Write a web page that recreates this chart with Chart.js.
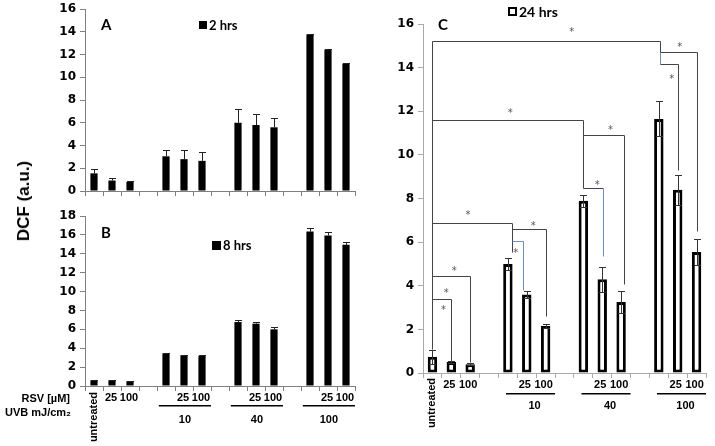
<!DOCTYPE html>
<html>
<head>
<meta charset="utf-8">
<script src="https://cdn.jsdelivr.net/npm/chart.js@4.4.1/dist/chart.umd.min.js"></script>
<style>
  html, body { margin: 0; padding: 0; background: #fff; }
  #wrap { position: relative; width: 715px; height: 446px; overflow: hidden; }
  #wrap canvas { position: absolute; }
  #ylabel {
    position: absolute; left: 24px; top: 201px;
    font: bold 17px "Liberation Sans", Arial, sans-serif; color: #000;
    white-space: nowrap;
    transform: translate(-50%, -50%) rotate(-90deg);
  }
</style>
</head>
<body>
<div id="wrap">
  <canvas id="chartA" width="360" height="234" style="left:0;top:-20px"></canvas>
  <canvas id="chartB" width="360" height="246" style="left:0;top:200px"></canvas>
  <canvas id="chartC" width="355" height="446" style="left:360px;top:0"></canvas>
  <div id="ylabel">DCF (a.u.)</div>
</div>
<script>
// bars: untreated + RSV 25/100, then UVB 10/40/100 each with RSV 0/25/100
var categories = ['untreated', '25', '100', '', '', '25', '100', '', '', '25', '100', '', '', '25', '100'];
var uvbDoses = ['10', '40', '100'];
var uvbDoseBars = [[4, 6], [8, 10], [12, 14]];

var dcf2h  = [1.55, 0.92, 0.8, null, 3.05, 2.8, 2.65, null, 6.0, 5.8, 5.6, null, 13.75, 12.45, 11.2];
var err2h  = [0.35, 0.25, 0.12, null, 0.55, 0.8, 0.75, null, 1.25, 1.0, 0.8, null, 0.03, 0.03, 0.03];
var dcf8h  = [0.6, 0.6, 0.5, null, 3.45, 3.25, 3.2, null, 6.77, 6.6, 6.0, null, 16.35, 15.93, 14.95];
var err8h  = [0.05, 0.05, 0.03, null, 0.05, 0.05, 0.05, null, 0.18, 0.18, 0.2, null, 0.35, 0.4, 0.3];
var dcf24h = [0.75, 0.5, 0.4, null, 5.0, 3.6, 2.15, null, 7.9, 4.3, 3.25, null, 11.65, 8.4, 5.55];
var err24h = [0.32, 0.05, 0.05, null, 0.28, 0.18, 0.08, null, 0.27, 0.58, 0.5, null, 0.8, 0.7, 0.6];

var yMaxA = 16, yMaxB = 18, yMaxC = 16, yStep = 2;

// significance brackets of panel C, polylines in [bar index, DCF] units
var sigLinesC = [
    [[0, 1.1], [0, 15.2], [12.05, 15.2], [12.05, 14.7]],
    [[12.05, 14.7], [12.05, 14.15]],
    [[12.05, 14.15], [13, 14.15], [13, 9.3]],
    [[12.05, 14.7], [14, 14.7], [14, 6.5]],
    [[0, 11.6], [8, 11.6], [8, 8.5], [9.05, 8.5]],
    [[9.05, 8.5], [9.05, 5.35]],
    [[8, 10.9], [10.15, 10.9], [10.15, 4.1]],
    [[0, 6.88], [4.2, 6.88], [4.2, 5.53]],
    [[4.2, 6.6], [6, 6.6], [6, 2.6]],
    [[4.2, 6.07], [4.8, 6.07], [4.8, 3.82]],
    [[0, 4.43], [2, 4.43], [2, 0.5]],
    [[0, 3.37], [1, 3.37], [1, 0.55]]
];
var sigStarsC = [[7.38, 15.7], [13.11, 15.0], [12.69, 13.55], [4.12, 12.0], [9.44, 11.2], [8.74, 8.7],
                 [1.88, 7.3], [5.35, 6.83], [4.42, 5.58], [1.16, 4.74], [0.73, 3.72], [0.59, 2.95]];

var FONT = '"Liberation Sans", Arial, sans-serif';
var TICK_FONT = {family: '"DejaVu Sans", sans-serif', size: 12, weight: 'bold'};

var errorBars = {
    id: 'errorBars',
    afterDatasetsDraw: function (chart, args, opts) {
        var ctx = chart.ctx, y = chart.scales.y;
        chart.data.datasets.forEach(function (ds, i) {
            chart.getDatasetMeta(i).data.forEach(function (bar, j) {
                var v = ds.data[j], e = ds.errors[j];
                if (v == null || e == null) return;
                var x = Math.round(bar.x) + 0.5;
                var top = Math.round(y.getPixelForValue(v + e)) + 0.5;
                var bot = opts.both ? Math.round(y.getPixelForValue(v - e)) + 0.5 : bar.y;
                ctx.save();
                ctx.strokeStyle = opts.color;
                ctx.lineWidth = 1;
                ctx.beginPath();
                ctx.moveTo(x, top); ctx.lineTo(x, bot);
                ctx.moveTo(x - opts.cap, top); ctx.lineTo(x + opts.cap, top);
                if (opts.both) { ctx.moveTo(x - opts.cap, bot); ctx.lineTo(x + opts.cap, bot); }
                ctx.stroke();
                ctx.restore();
            });
        });
    }
};

// the labels under the bars: RSV doses, 'untreated' upright, UVB dose lines
var axisLabels = {
    id: 'axisLabels',
    afterDraw: function (chart, args, o) {
        var ctx = chart.ctx, x = chart.scales.x, base = chart.chartArea.bottom;
        ctx.save();
        ctx.fillStyle = '#000';
        ctx.font = 'bold 11px ' + FONT;
        ctx.textAlign = 'center';
        ctx.textBaseline = 'middle';
        categories.forEach(function (lab, i) {
            if (!lab) return;
            var px = x.getPixelForValue(i);
            if (i === 0) {
                ctx.save();
                ctx.translate(px, base + o.rotGap);
                ctx.rotate(-Math.PI / 2);
                ctx.textAlign = 'right';
                ctx.fillText(lab, 0, 0);
                ctx.restore();
            } else {
                ctx.fillText(lab, px + o.shift, base + o.labelGap);
            }
        });
        uvbDoses.forEach(function (dose, k) {
            var x0 = x.getPixelForValue(uvbDoseBars[k][0] + o.lineFrom);
            var x1 = x.getPixelForValue(uvbDoseBars[k][1] + o.lineTo);
            ctx.fillRect(x0, base + o.lineGap, x1 - x0, 1.5);
            ctx.fillText(dose, (x0 + x1) / 2 + o.doseShift, base + o.doseGap);
        });
        if (o.rowTitles) {
            ctx.textAlign = 'right';
            ctx.fillText('RSV [µM]', chart.chartArea.left - 15, base + o.labelGap + 1);
            ctx.fillText('UVB mJ/cm\u2082', chart.chartArea.left - 14, base + 27);
        }
        ctx.restore();
    }
};

function decor(letter, lx, ly, legend) {
    return {
        id: 'decor',
        afterDraw: function (chart) {
            var ctx = chart.ctx, ds = chart.data.datasets[0];
            ctx.save();
            ctx.fillStyle = '#000';
            ctx.textBaseline = 'middle';
            ctx.font = 'bold 15px Lato, sans-serif';
            ctx.fillText(letter, lx, ly);
            if (legend.hollow) {
                ctx.strokeStyle = '#000';
                ctx.lineWidth = 2;
                ctx.strokeRect(legend.x + 1, legend.y + 1, legend.size - 2, legend.size - 2);
            } else {
                ctx.fillRect(legend.x, legend.y, legend.size, legend.size);
            }
            ctx.font = 'bold ' + legend.font + 'px Lato, sans-serif';
            ctx.fillText(ds.label, legend.x + legend.size + 2, legend.y + legend.size / 2 + 0.5);
            ctx.restore();
        }
    };
}

var sigBrackets = {
    id: 'sigBrackets',
    afterDatasetsDraw: function (chart) {
        var ctx = chart.ctx, x = chart.scales.x, y = chart.scales.y;
        var blue = [1, 5, 9];
        ctx.save();
        ctx.lineWidth = 1;
        sigLinesC.forEach(function (line, k) {
            ctx.strokeStyle = blue.indexOf(k) >= 0 ? '#6b8fc6' : '#444';
            ctx.beginPath();
            line.forEach(function (p, n) {
                var px = Math.round(x.getPixelForValue(p[0])) + 0.5;
                var py = Math.round(y.getPixelForValue(p[1])) + 0.5;
                if (n === 0) ctx.moveTo(px, py); else ctx.lineTo(px, py);
            });
            ctx.stroke();
        });
        ctx.fillStyle = '#555';
        ctx.font = '10px "DejaVu Sans", sans-serif';
        ctx.textAlign = 'center';
        ctx.textBaseline = 'middle';
        sigStarsC.forEach(function (s) {
            ctx.fillText('*', x.getPixelForValue(s[0]), y.getPixelForValue(s[1]) + 2);
        });
        ctx.restore();
    }
};

function panelOptions(yMax, pad, yWidth, axisColor, extra) {
    var plugins = {legend: {display: false}, tooltip: {enabled: false}};
    Object.keys(extra).forEach(function (k) { plugins[k] = extra[k]; });
    return {
        responsive: false,
        animation: false,
        events: [],
        layout: {padding: pad},
        plugins: plugins,
        scales: {
            x: {
                type: 'category',
                offset: true,
                grid: {drawOnChartArea: false, drawTicks: true, tickLength: 5, offset: true, color: axisColor},
                border: {color: axisColor},
                ticks: {display: false},
                afterFit: function (s) { s.height = 5; }
            },
            y: {
                min: 0,
                max: yMax,
                grid: {drawOnChartArea: false, tickLength: 5, color: axisColor},
                border: {color: axisColor},
                ticks: {stepSize: yStep, color: '#000', font: TICK_FONT, padding: 4},
                afterFit: function (s) { s.width = yWidth; }
            }
        }
    };
}

function solidBars(label, data, errors) {
    return {
        label: label, data: data, errors: errors,
        backgroundColor: '#000', borderWidth: 0,
        barPercentage: 0.4, categoryPercentage: 1
    };
}

// canvas A starts 20px above the page so the tick label overflow has room
new Chart(document.getElementById('chartA'), {
    type: 'bar',
    data: {labels: categories, datasets: [solidBars('2 hrs', dcf2h, err2h)]},
    options: panelOptions(yMaxA, {left: 0, right: 5, top: 29, bottom: 18}, 85, '#808080',
        {errorBars: {both: false, cap: 3.5, color: '#222'}}),
    plugins: [errorBars, decor('A', 101, 45, {x: 199, y: 41, size: 8, font: 13})]
});

new Chart(document.getElementById('chartB'), {
    type: 'bar',
    data: {labels: categories, datasets: [solidBars('8 hrs', dcf8h, err8h)]},
    options: panelOptions(yMaxB, {left: 0, right: 5, top: 16, bottom: 55}, 85, '#808080',
        {errorBars: {both: false, cap: 3.5, color: '#222'},
         axisLabels: {rotGap: 6, labelGap: 12, shift: -1, lineGap: 19, lineFrom: -0.4, lineTo: 0.5,
                      doseGap: 34, doseShift: 0, rowTitles: true}}),
    plugins: [errorBars, axisLabels, decor('B', 101, 33, {x: 212, y: 41, size: 9, font: 13})]
});

new Chart(document.getElementById('chartC'), {
    type: 'bar',
    data: {
        labels: categories,
        datasets: [{
            label: '24 hrs', data: dcf24h, errors: err24h,
            backgroundColor: '#fff', borderColor: '#000', borderWidth: 3, borderSkipped: false,
            barPercentage: 0.5, categoryPercentage: 1
        }]
    },
    options: panelOptions(yMaxC, {left: 0, right: 9, top: 24, bottom: 68}, 63, '#aaaaaa',
        {errorBars: {both: true, cap: 3.5, color: '#333'},
         axisLabels: {rotGap: 5, labelGap: 12, shift: -2, lineGap: 20, lineFrom: -0.1, lineTo: 0.5,
                      doseGap: 33, doseShift: 4, rowTitles: false}}),
    plugins: [errorBars, sigBrackets, axisLabels,
              decor('C', 78, 25, {x: 148, y: 7, size: 9, font: 14, hollow: true})]
});
</script>
</body>
</html>
